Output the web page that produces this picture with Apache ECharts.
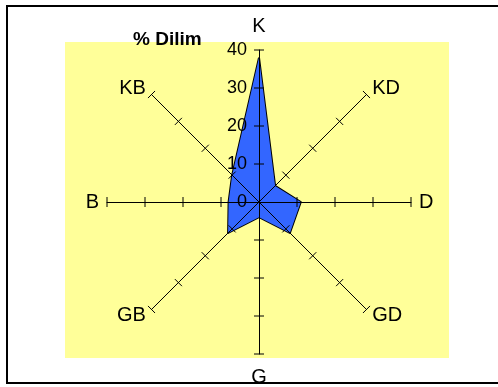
<!DOCTYPE html>
<html>
<head>
<meta charset="utf-8">
<script src="https://cdn.jsdelivr.net/npm/echarts@6/dist/echarts.min.js"></script>
<style>
  html, body { margin: 0; padding: 0; background: #fff; }
  #chart { width: 498px; height: 387px; }
</style>
</head>
<body>
<div id="chart"></div>
<script>
// Wind-rose style directions (counter-clockwise from north)
const directions = ['K', 'KB', 'B', 'GB', 'G', 'GD', 'D', 'KD'];
// Percentage share per direction
const dilimValues = [38, 10, 8, 11.5, 4, 11.5, 11, 6];
// Radial scale
const scaleMin = 0;
const scaleMax = 40;
const scaleSteps = 4;
const tickValues = [10, 20, 30, 40];

const FONT = 'Liberation Sans, Arial, Helvetica, sans-serif';
const CENTER = [259, 202];
const RADIUS = 152;

const nameGaps = { K: 14, G: 13 };

const indicators = directions.map(d => ({
  name: d,
  min: scaleMin,
  max: scaleMax,
  nameGap: nameGaps[d] !== undefined ? nameGaps[d] : 8,
  axisLabel: { show: d === 'K' }
}));

// one cross mark per spoke and tick value: [radius value, angle in degrees]
const tickMarks = [];
directions.forEach((d, i) => {
  tickValues.forEach(v => tickMarks.push([v, i * 360 / directions.length]));
});

const chart = echarts.init(document.getElementById('chart'), null, { renderer: 'canvas' });

chart.setOption({
  backgroundColor: '#fff',
  animation: false,
  title: {
    text: '% Dilim',
    left: 133,
    top: 30,
    padding: 0,
    textStyle: { fontFamily: FONT, fontSize: 19, fontWeight: 'bold', color: '#000' }
  },
  graphic: [
    {
      type: 'rect',
      z: -10,
      shape: { x: 65, y: 42, width: 384, height: 316 },
      style: { fill: '#FFFF99' },
      silent: true
    },
    {
      type: 'rect',
      z: -9,
      shape: { x: 7, y: 6, width: 500, height: 377 },
      style: { fill: null, stroke: '#000', lineWidth: 2 },
      silent: true
    }
  ],
  radar: {
    center: CENTER,
    radius: RADIUS,
    startAngle: 90,
    shape: 'polygon',
    splitNumber: scaleSteps,
    splitLine: { show: false },
    splitArea: { show: false },
    z: 3,
    indicator: indicators,
    axisName: { color: '#000', fontFamily: FONT, fontSize: 20 },
    axisLine: { show: true, lineStyle: { color: '#000', width: 1 } },
    axisTick: { show: false },
    axisLabel: { show: false, color: '#000', fontFamily: FONT, fontSize: 18, margin: 12 }
  },
  // polar frame sharing the radar's centre and radius, used for the tick crosses
  polar: { center: CENTER, radius: RADIUS },
  angleAxis: { type: 'value', min: 0, max: 360, startAngle: 90, clockwise: false, show: false },
  radiusAxis: { type: 'value', min: scaleMin, max: scaleMax, show: false },
  series: [
    {
      type: 'radar',
      z: 1,
      symbol: 'none',
      lineStyle: { color: '#000', width: 2 },
      areaStyle: { color: '#3366FF', opacity: 1 },
      data: [{ value: dilimValues, name: '% Dilim' }]
    },
    {
      type: 'custom',
      coordinateSystem: 'polar',
      z: 5,
      silent: true,
      data: tickMarks,
      renderItem: function (params, api) {
        const r = api.value(0);
        const a = api.value(1);
        const p = api.coord([r, a]);
        const th = (90 + a) * Math.PI / 180;
        const nx = Math.sin(th), ny = Math.cos(th);
        const half = 5;
        return {
          type: 'line',
          shape: { x1: p[0] - half * nx, y1: p[1] - half * ny, x2: p[0] + half * nx, y2: p[1] + half * ny },
          style: { stroke: '#000', lineWidth: 1 }
        };
      }
    }
  ]
});
</script>
</body>
</html>
